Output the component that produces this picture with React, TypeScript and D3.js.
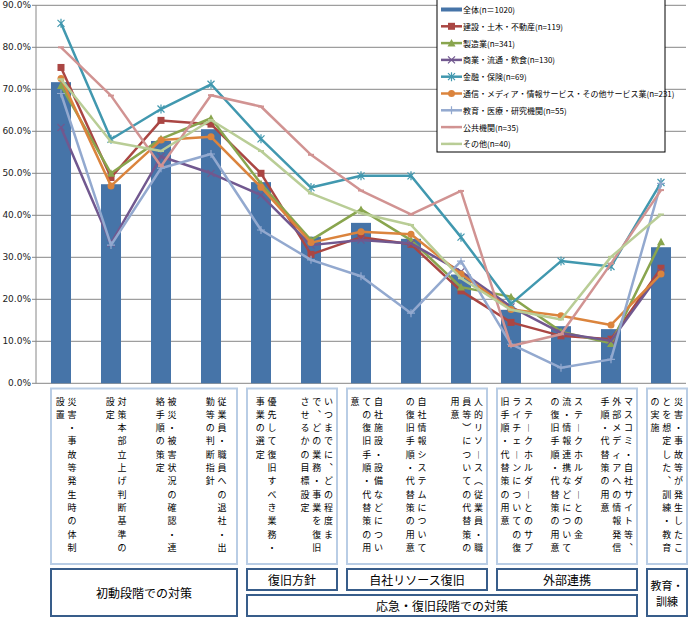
import * as d3 from "d3";

// Column labels, one string per vertical column (right to left)
const categoryLabels: string[][] = [
  ["災害・事故等発生時の体制", "設置"],
  ["対策本部立上げ判断基準の", "設定"],
  ["被災・被害状況の確認・連", "絡手順の策定"],
  ["従業員・職員への退社・出", "勤等の判断指針"],
  ["優先して復旧すべき業務・", "事業の選定"],
  ["いつまでに、どの程度ま", "で、どの業務・事業を復旧", "させるかの目標設定"],
  ["自社施設・設備などについ", "ての復旧手順・代替策の用", "意"],
  ["自社情報システムについて", "の復旧手順・代替策の用意"],
  ["人的リソース（従業員・職", "員等）についての代替策の", "用意"],
  ["ステークホルダーとのサプ", "ライチェーンについての復", "旧手順・代替策の用意"],
  ["ステークホルダーとの金", "流・情報連携などについて", "の復旧手順・代替策の用意"],
  ["マスコミ・自社サイト等、", "外部メディアへの情報発信", "手順・代替策の用意"],
  ["災害・事故等が発生したこ", "とを想定した、訓練・教育", "の実施"],
];

const groupsTop = [
  { label: "初動段階での対策", from: 0, to: 3, tall: true },
  { label: "復旧方針", from: 4, to: 5, tall: false },
  { label: "自社リソース復旧", from: 6, to: 8, tall: false },
  { label: "外部連携", from: 9, to: 11, tall: false },
  { label: "教育・\n訓練", from: 12, to: 12, tall: true },
];
const groupsBottom = [{ label: "応急・復旧段階での対策", from: 4, to: 11 }];

const totalName = "全体(n＝1020)";
const totalValues = [71.7, 47.4, 57.7, 60.5, 47.9, 34.9, 38.2, 34.4, 25.9, 17.5, 13.6, 12.9, 32.4];

const seriesNames = [
  "建設・土木・不動産(n=119)",
  "製造業(n=341)",
  "商業・流通・飲食(n=130)",
  "金融・保険(n=69)",
  "通信・メディア・情報サービス・その他サービス業(n=231)",
  "教育・医療・研究機関(n=55)",
  "公共機関(n=35)",
  "その他(n=40)",
];
const seriesValues = [
  [75.2, 49.0, 62.6, 61.7, 50.0, 30.7, 34.8, 33.1, 22.0, 14.5, 11.3, 10.5, 27.4],
  [70.9, 50.0, 58.2, 63.1, 47.5, 34.1, 41.4, 34.1, 22.9, 20.6, 12.3, 9.5, 33.7],
  [60.9, 33.3, 54.0, 50.0, 44.8, 32.9, 34.1, 33.3, 26.6, 18.2, 12.0, 10.1, 26.5],
  [85.7, 58.1, 65.3, 71.2, 58.2, 46.6, 49.4, 49.4, 34.8, 18.9, 29.1, 27.8, 47.8],
  [72.6, 47.0, 57.9, 58.7, 46.7, 33.5, 36.1, 35.5, 26.0, 17.6, 16.1, 13.9, 26.0],
  [69.0, 32.9, 51.2, 54.6, 36.5, 29.4, 25.5, 16.7, 29.1, 9.3, 3.7, 5.7, 47.6],
  [80.0, 68.5, 51.7, 68.6, 65.9, 54.4, 45.9, 40.2, 45.8, 8.9, 11.7, 28.5, 46.0],
  [72.4, 57.5, 55.3, 62.7, 55.3, 45.2, 40.5, 37.7, 25.0, 17.5, 15.2, 30.1, 40.2],
];
const seriesColors = ["#AA4643", "#89A54E", "#71588F", "#4198AF", "#DB843D", "#93A9CF", "#D19392", "#B9CD96"];
const seriesMarkers = ["square", "triangle", "x", "star", "circle", "plus", "dash", "dash"];
const yTicks = [0, 10, 20, 30, 40, 50, 60, 70, 80, 90];

const JP = "'Noto Sans CJK JP', sans-serif";
const VERT: Record<string, string> = { "ー": "︱", "（": "︵", "）": "︶", "、": "︑" };

function Marker({ kind, x, y, color }: { kind: string; x: number; y: number; color: string }) {
  const s = 3.5;
  switch (kind) {
    case "square":
      return <rect x={x - s} y={y - s} width={s * 2} height={s * 2} fill={color} />;
    case "triangle":
      return <path d={`M${x},${y - s - 0.5}L${x + s + 0.5},${y + s}L${x - s - 0.5},${y + s}Z`} fill={color} />;
    case "circle":
      return <circle cx={x} cy={y} r={s} fill={color} />;
    case "x":
      return <path d={`M${x - s},${y - s}L${x + s},${y + s}M${x - s},${y + s}L${x + s},${y - s}`} stroke={color} strokeWidth={1.2} />;
    case "star":
      return (
        <path
          d={`M${x - s},${y - s}L${x + s},${y + s}M${x - s},${y + s}L${x + s},${y - s}M${x},${y - s - 1}L${x},${y + s + 1}`}
          stroke={color}
          strokeWidth={1.2}
        />
      );
    case "plus":
      return <path d={`M${x - s - 0.5},${y}L${x + s + 0.5},${y}M${x},${y - s - 0.5}L${x},${y + s + 0.5}`} stroke={color} strokeWidth={1.2} />;
    default:
      return <rect x={x - 3} y={y - 1} width={6} height={2} fill={color} />;
  }
}

export default function App() {
  const width = 688;
  const height = 618;
  const plot = { left: 36, right: 686, top: 5.3, bottom: 383.3 };

  const idx = d3.range(categoryLabels.length);
  const x = d3.scalePoint<number>().domain(idx).range([plot.left, plot.right]).padding(0.5);
  const y = d3.scaleLinear().domain([0, 90]).range([plot.bottom, plot.top]);
  const barW = 20;

  const line = d3
    .line<number>()
    .x((_, i) => x(i)!)
    .y((v) => y(v));

  const boxLeft = (i: number) => Math.max(x(i)! - 14, 51);
  const boxRight = (i: number) => x(i)! + 26;

  const lbTop = 388.5;
  const lbBottom = 564;
  const gTop = 569;
  const gMid = 590;
  const gMid2 = 595;
  const gBottom = 616;

  const legend = { x: 437, y: -1, w: 228, h: 153 };
  const legendRows = [totalName, ...seriesNames];

  return (
    <svg
      width={width}
      height={height}
      style={{ position: "absolute", left: 0, top: 0, display: "block", background: "#fff" }}
    >
      {/* grid + axis */}
      {yTicks.map((t) => (
        <g key={t}>
          <line x1={plot.left - 4} x2={plot.right} y1={y(t)} y2={y(t)} stroke="#868686" strokeWidth={1} />
          <text
            x={31}
            y={y(t)}
            fontSize={9}
            fontFamily="'DejaVu Sans', sans-serif"
            textAnchor="end"
            dominantBaseline="central"
            fill="#222"
          >
            {t.toFixed(1)}%
          </text>
        </g>
      ))}
      <line x1={plot.left} x2={plot.left} y1={plot.top} y2={plot.bottom} stroke="#868686" />

      {/* bars */}
      {totalValues.map((v, i) => (
        <rect key={i} x={x(i)! - barW / 2} y={y(v)} width={barW} height={y(0) - y(v)} fill="#4674A8" />
      ))}

      {/* lines */}
      {seriesValues.map((vals, s) => (
        <g key={s}>
          <path d={line(vals) ?? ""} fill="none" stroke={seriesColors[s]} strokeWidth={2.5} strokeLinejoin="round" />
          {vals.map((v, i) => (
            <Marker key={i} kind={seriesMarkers[s]} x={x(i)!} y={y(v)} color={seriesColors[s]} />
          ))}
        </g>
      ))}

      {/* legend */}
      <rect x={legend.x} y={legend.y} width={legend.w} height={legend.h} fill="#fff" stroke="#000" strokeWidth={1} />
      {legendRows.map((name, i) => {
        const ly = 9.5 + i * 16.8;
        return (
          <g key={name}>
            {i === 0 ? (
              <rect x={441} y={ly - 2} width={21} height={4} fill="#4674A8" />
            ) : (
              <>
                <line x1={441} x2={462} y1={ly} y2={ly} stroke={seriesColors[i - 1]} strokeWidth={2.5} />
                <Marker kind={seriesMarkers[i - 1]} x={451.5} y={ly} color={seriesColors[i - 1]} />
              </>
            )}
            <text x={463} y={ly} fontSize={8} fontFamily={JP} dominantBaseline="central" fill="#000">
              {name}
            </text>
          </g>
        );
      })}

      {/* vertical category labels */}
      {groupsTop.map((g) => (
        <rect
          key={"lb" + g.label}
          x={boxLeft(g.from)}
          y={lbTop}
          width={boxRight(g.to) - boxLeft(g.from)}
          height={lbBottom - lbTop}
          fill="none"
          stroke="#B9CDE5"
          strokeWidth={2}
        />
      ))}
      {categoryLabels.map((cols, i) => {
        const rightX = x(i)! + (cols.length === 3 ? 17.5 : 11);
        return (
          <g key={i}>
            {cols.map((col, c) =>
              Array.from(col).map((ch, r) => (
                <text
                  key={c + "-" + r}
                  x={rightX - c * 11.7}
                  y={401 + r * 13.3}
                  fontSize={9}
                  fontFamily={JP}
                  textAnchor="middle"
                  dominantBaseline="central"
                  fill="#000"
                >
                  {VERT[ch] ?? ch}
                </text>
              )),
            )}
          </g>
        );
      })}

      {/* group boxes */}
      {groupsTop.map((g) => {
        const x0 = boxLeft(g.from);
        const x1 = boxRight(g.to);
        const y1 = g.tall ? gBottom : gMid;
        const lines = g.label.split("\n");
        return (
          <g key={"g" + g.label}>
            <rect x={x0} y={gTop} width={x1 - x0} height={y1 - gTop} fill="#fff" stroke="#385D8A" strokeWidth={2} />
            {lines.map((ln, k) => (
              <text
                key={k}
                x={(x0 + x1) / 2}
                y={(gTop + y1) / 2 + (k - (lines.length - 1) / 2) * 16}
                fontSize={lines.length > 1 ? 11 : 12}
                fontFamily={JP}
                textAnchor="middle"
                dominantBaseline="central"
                fill="#000"
              >
                {ln}
              </text>
            ))}
          </g>
        );
      })}
      {groupsBottom.map((g) => {
        const x0 = boxLeft(g.from);
        const x1 = boxRight(g.to);
        return (
          <g key={"gb" + g.label}>
            <rect x={x0} y={gMid2} width={x1 - x0} height={gBottom - gMid2} fill="#fff" stroke="#385D8A" strokeWidth={2} />
            <text
              x={(x0 + x1) / 2}
              y={(gMid2 + gBottom) / 2}
              fontSize={12}
              fontFamily={JP}
              textAnchor="middle"
              dominantBaseline="central"
              fill="#000"
            >
              {g.label}
            </text>
          </g>
        );
      })}
    </svg>
  );
}
